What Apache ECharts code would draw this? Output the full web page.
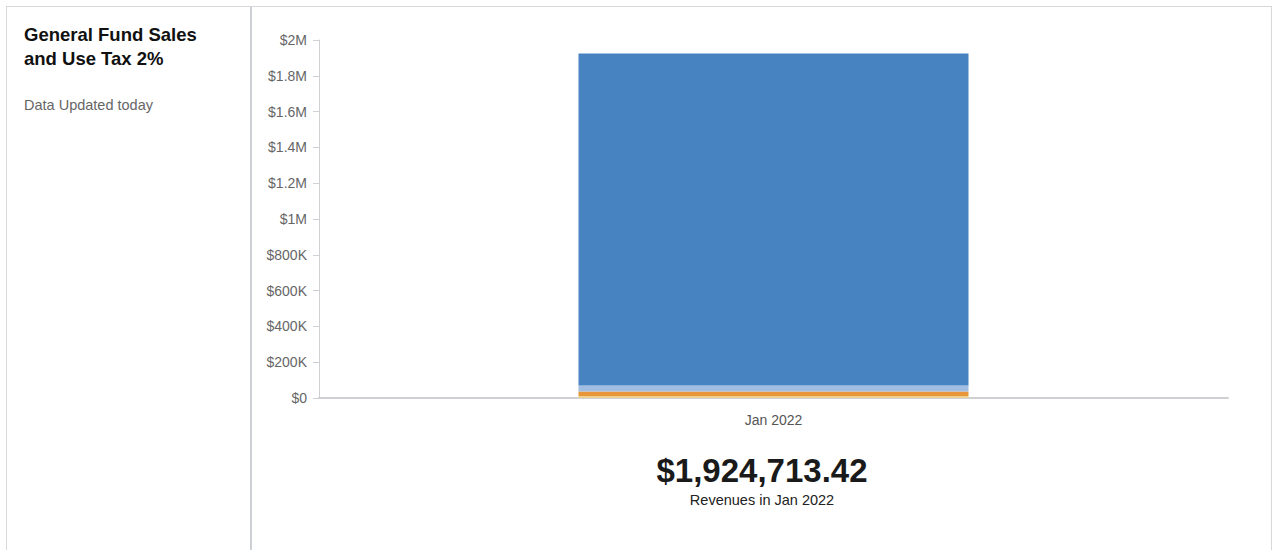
<!DOCTYPE html>
<html>
<head>
<meta charset="utf-8">
<script src="https://cdn.jsdelivr.net/npm/echarts@6/dist/echarts.min.js"></script>
<style>
  html, body { margin: 0; padding: 0; background: #fff; font-family: "Liberation Sans", Arial, sans-serif; }
  .frame {
    position: absolute; left: 6px; top: 6px; width: 1266px; height: 560px;
    border: 1px solid #d8d8dc; border-bottom: none; box-sizing: border-box;
  }
  .side {
    position: absolute; left: 0; top: 0; width: 245px; height: 100%;
    border-right: 2px solid #cdd0d4; box-sizing: border-box;
  }
  .side h1 { margin: 0; position: absolute; left: 17px; top: 16px; font-size: 18.5px; line-height: 24px; font-weight: bold; color: #111; }
  .side p { margin: 0; position: absolute; left: 17px; top: 90px; font-size: 14.5px; color: #666; }
  #chart { position: absolute; left: 266px; top: 6px; width: 1007px; height: 544px; overflow: hidden; }
</style>
</head>
<body>
<div class="frame">
  <div class="side">
    <h1>General Fund Sales<br>and Use Tax 2%</h1>
    <p>Data Updated today</p>
  </div>
</div>
<div id="chart"></div>
<script>
// data (stack from bottom to top)
const categories = ['Jan 2022']
const seriesNames = ['Part D', 'Part C', 'Part B', 'Part A']
const seriesColors = ['#ecd38e', '#e7963a', '#a1bde2', '#4782c1']
const partD = [9200]
const partC = [27400]
const partB = [33600]
const partA = [1854513.42]
const total = 1924713.42
const totalLabel = 'Revenues in Jan 2022'

function fmtAxis(v) {
  if (v === 0) return '$0'
  if (v >= 1000000) return '$' + (v / 1000000) + 'M'
  return '$' + (v / 1000) + 'K'
}

const chart = echarts.init(document.getElementById('chart'), null, { renderer: 'svg' })
const values = [partD, partC, partB, partA]

chart.setOption({
  animation: false,
  textStyle: { fontFamily: 'Liberation Sans' },
  grid: { left: 53, top: 34, right: 45, bottom: 152, outerBoundsMode: 'none', containLabel: false },
  xAxis: {
    type: 'category',
    data: categories,
    axisLine: { lineStyle: { color: '#cfd0d4', width: 2 } },
    axisTick: { alignWithLabel: true, length: 8, lineStyle: { color: '#cfd0d4', width: 2 } },
    axisLabel: { color: '#555', fontSize: 14, margin: 15 }
  },
  yAxis: {
    type: 'value',
    min: 0,
    max: 2000000,
    interval: 200000,
    axisLine: { show: true, lineStyle: { color: '#cfd0d4', width: 1 } },
    axisTick: { show: true, length: 6, lineStyle: { color: '#cfd0d4' } },
    splitLine: { show: false },
    axisLabel: { color: '#666', fontSize: 14, margin: 12, formatter: fmtAxis }
  },
  series: seriesNames.map((name, i) => ({
    name: name,
    type: 'bar',
    stack: 'total',
    barWidth: 390,
    data: values[i],
    itemStyle: { color: seriesColors[i] }
  })),
  graphic: [
    {
      type: 'text', x: 496, y: 464,
      style: { text: '$' + total.toLocaleString('en-US', { minimumFractionDigits: 2 }), font: 'bold 33px "Liberation Sans"', fill: '#1a1a1a', align: 'center', verticalAlign: 'middle' }
    },
    {
      type: 'text', x: 496, y: 494,
      style: { text: totalLabel, font: '14.5px "Liberation Sans"', fill: '#222', align: 'center', verticalAlign: 'middle' }
    }
  ]
})
</script>
</body>
</html>
